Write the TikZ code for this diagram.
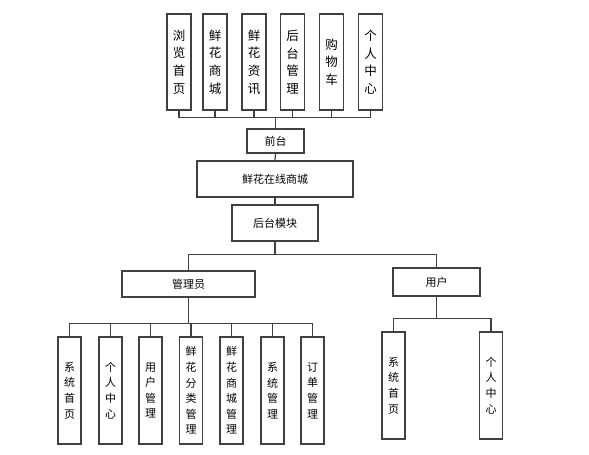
\documentclass[tikz,border=0pt]{standalone}
\usepackage{fontspec}
\setmainfont{Noto Sans CJK SC}
\usetikzlibrary{arrows.meta}

\begin{document}
\begin{tikzpicture}[x=1pt,y=-1pt,
  box/.style={draw=black!75,line width=1.2pt,inner sep=0pt,align=center},
  topcol/.style={box,minimum width=24pt,minimum height=96pt,font=\fontsize{12.5}{17.7}\selectfont},
  subcol/.style={box,minimum width=23pt,minimum height=107pt,font=\fontsize{11}{15.6}\selectfont},
  wide/.style={box,font=\fontsize{11}{13}\selectfont},
  link/.style={draw=black!75,line width=1.2pt}]
  \useasboundingbox (0,0) rectangle (589,455);
  % front-end pages
  \node[topcol] (t1) at (179,62) {浏\\览\\首\\页};
  \node[topcol] (t2) at (215,62) {鲜\\花\\商\\城};
  \node[topcol] (t3) at (254,62) {鲜\\花\\资\\讯};
  \node[topcol] (t4) at (292.5,62) {后\\台\\管\\理};
  \node[topcol] (t5) at (331.5,62) {购\\物\\车};
  \node[topcol] (t6) at (370.5,62) {个\\人\\中\\心};
  \node[wide,minimum width=57pt,minimum height=24pt] (qt) at (275.5,141) {前台};
  \node[wide,minimum width=156pt,minimum height=36pt] (main) at (275,179) {鲜花在线商城};
  \node[wide,minimum width=86pt,minimum height=36pt] (ht) at (275,223) {后台模块};
  \draw[link] (t1.south) -- ++(0,7) -| (qt.north);
  \draw[link] (t2.south) -- ++(0,7) -| (qt.north);
  \draw[link] (t3.south) -- ++(0,7) -| (qt.north);
  \draw[link] (t4.south) -- ++(0,7) -| (qt.north);
  \draw[link] (t5.south) -- ++(0,7) -| (qt.north);
  \draw[link] (t6.south) -- ++(0,7) -| (qt.north);
  \draw[link] (qt.south) -- (main.north);
  \draw[link] (main.south) -- (ht.north);
  % roles
  \node[wide,minimum width=133pt,minimum height=26pt] (gly) at (188.5,284) {管理员};
  \node[wide,minimum width=87pt,minimum height=28pt] (yh) at (436.5,282) {用户};
  \draw[link] (ht.south) -- ++(0,13) -| (gly.north);
  \draw[link] (ht.south) -- ++(0,13) -| (yh.north);
  % admin functions
  \node[subcol] (a1) at (69.5,390.5) {系\\统\\首\\页};
  \node[subcol] (a2) at (110.5,390.5) {个\\人\\中\\心};
  \node[subcol] (a3) at (150.5,390.5) {用\\户\\管\\理};
  \node[subcol] (a4) at (191,390.5) {鲜\\花\\分\\类\\管\\理};
  \node[subcol] (a5) at (231.5,390.5) {鲜\\花\\商\\城\\管\\理};
  \node[subcol] (a6) at (272.5,390.5) {系\\统\\管\\理};
  \node[subcol] (a7) at (312.5,390.5) {订\\单\\管\\理};
  \draw[link] (gly.south) -- ++(0,26) -| (a1.north);
  \draw[link] (gly.south) -- ++(0,26) -| (a2.north);
  \draw[link] (gly.south) -- ++(0,26) -| (a3.north);
  \draw[link] (gly.south) -- ++(0,26) -| (a4.north);
  \draw[link] (gly.south) -- ++(0,26) -| (a5.north);
  \draw[link] (gly.south) -- ++(0,26) -| (a6.north);
  \draw[link] (gly.south) -- ++(0,26) -| (a7.north);
  % user functions
  \node[subcol] (u1) at (393.5,385.5) {系\\统\\首\\页};
  \node[subcol] (u2) at (491,385.5) {个\\人\\中\\心};
  \draw[link] (yh.south) -- ++(0,22) -| (u1.north);
  \draw[link] (yh.south) -- ++(0,22) -| (u2.north);
\end{tikzpicture}
\end{document}
